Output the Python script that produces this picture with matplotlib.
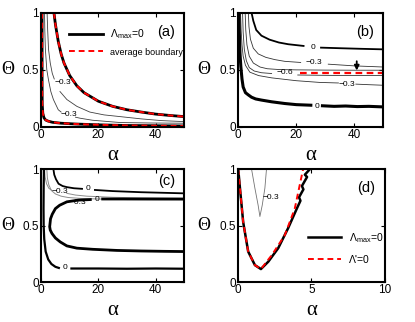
import numpy as np
import matplotlib
matplotlib.use('Agg')
import matplotlib.pyplot as plt

plt.rcParams['font.family'] = ['Liberation Sans', 'DejaVu Sans']
plt.rcParams['mathtext.fontset'] = 'custom'
plt.rcParams['mathtext.rm'] = 'Liberation Sans'
plt.rcParams['mathtext.it'] = 'Liberation Sans:italic'

nan = np.nan

# ---- panel (a) : alpha vs theta
a_low_alpha = [0.35, 0.35, 0.4, 0.6, 1.0, 1.6, 2.5, 4, 7, 12, 20, 30, 40, 50]
a_low_theta = [1.0, 0.4, 0.2, 0.12, 0.08, 0.06, 0.05, 0.04, 0.032, 0.025, 0.018, 0.012, 0.01, 0.008]
a_high_alpha = [4.5, 5, 6, 7, 8, 10, 12.5, 15, 20, 25, 30, 35, 40, 45, 50]
a_high_theta = [1.0, 0.9, 0.75, 0.64, 0.56, 0.45, 0.36, 0.3, 0.225, 0.18, 0.15, 0.13, 0.112, 0.1, 0.09]
a_p_alpha = [2.1, 2.3, 2.6, 3.2, 3.9, 4.6, nan, 6.6, 9, 12.5, 17, 22, 27.6, 35, 42, 50]
a_p_theta = [1.0, 0.85, 0.68, 0.56, 0.47, 0.42, nan, 0.31, 0.24, 0.18, 0.13, 0.105, 0.09, 0.07, 0.055, 0.046]
a_q_alpha = [1.2, 1.3, 1.5, 2.0, 2.6, 3.4, 4.3, 6.0, 7.0, nan, 12.0, 13.6, 18, 27.6, 38, 50]
a_q_theta = [1.0, 0.85, 0.68, 0.5, 0.41, 0.31, 0.24, 0.15, 0.13, nan, 0.085, 0.076, 0.058, 0.038, 0.034, 0.032]
a_labels = [(7.6, 0.385, '\u22120.3'), (9.6, 0.105, '\u22120.3')]

# ---- panel (b)
b_top_alpha = [4.6, 5.2, 6.2, 8, 10.8, 14, 17.2, 22.5, nan, 28.5, 35, 42, 50]
b_top_theta = [1.0, 0.93, 0.85, 0.8, 0.765, 0.74, 0.725, 0.71, nan, 0.695, 0.69, 0.685, 0.68]
b_m03u_alpha = [3.5, 3.7, 4.2, 5.2, 6.9, 9.5, 12.6, 16, 21.5, nan, 31, 40, 50]
b_m03u_theta = [1.0, 0.88, 0.77, 0.69, 0.64, 0.61, 0.59, 0.575, 0.565, nan, 0.55, 0.535, 0.525]
b_m06u_alpha = [2.4, 2.6, 3.0, 3.8, 5.2, 7.5, 10, 14, 20, 30, 40, 50]
b_m06u_theta = [1.0, 0.85, 0.72, 0.62, 0.56, 0.525, 0.51, 0.503, 0.5, 0.498, 0.497, 0.497]
b_m06l_alpha = [1.5, 1.7, 2.1, 2.8, 3.8, 5.5, 8, 11.5, nan, 20.5, 30, 40, 50]
b_m06l_theta = [1.0, 0.83, 0.68, 0.58, 0.52, 0.49, 0.475, 0.468, nan, 0.455, 0.452, 0.45, 0.45]
b_m03l_alpha = [0.8, 1.0, 1.3, 1.7, 2.5, 4, 7, 11.5, 20, 28, 34.5, nan, 40.5, 45, 50]
b_m03l_theta = [1.0, 0.85, 0.72, 0.62, 0.54, 0.48, 0.45, 0.43, 0.405, 0.39, 0.385, nan, 0.375, 0.37, 0.365]
b_bot_alpha = [0.3, 0.4, 0.6, 0.9, 1.3, 1.7, 2.5, 3.5, 4.6, 6, 8, 11.5, 16, 20, 25, nan, 29, 33, 37, 41, 45, 50]
b_bot_theta = [1.0, 0.82, 0.65, 0.53, 0.42, 0.35, 0.3, 0.28, 0.26, 0.245, 0.235, 0.22, 0.205, 0.195, 0.19, nan,
               0.185, 0.18, 0.183, 0.178, 0.18, 0.175]
b_red_alpha = [21.4, 30, 40, 50]
b_red_theta = [0.472, 0.472, 0.472, 0.472]
b_arrow = (40.8, 0.60, 0.47)
b_labels = [(25.8, 0.70, '0'), (26.2, 0.565, '\u22120.3'), (16.2, 0.48, '\u22120.6'),
            (37.5, 0.375, '\u22120.3'), (27, 0.18, '0')]

# ---- panel (c)
c_top_alpha = [4.3, 4.6, 5.2, 6.1, 7.5, 9.0, 11.5, 14.3, nan, 18.8, 25, 35, 50]
c_top_theta = [1.0, 0.95, 0.91, 0.87, 0.85, 0.84, 0.83, 0.825, nan, 0.815, 0.805, 0.795, 0.785]
c_g1_alpha = [1.2, 1.4, 1.9, 2.7, 3.8, nan, 9.0, 12, 16, 25, 35, 50]
c_g1_theta = [1.0, 0.93, 0.87, 0.83, 0.81, nan, 0.785, 0.77, 0.76, 0.75, 0.745, 0.74]
c_g2_alpha = [2.0, 2.2, 2.7, 3.6, 5.0, 7.0, 9.5, 14, 20, 30, 40, 50]
c_g2_theta = [1.0, 0.92, 0.86, 0.81, 0.78, 0.76, 0.748, 0.74, 0.735, 0.73, 0.728, 0.727]
c_mid_alpha = [50, 40, 30, 21.5, nan, 17.2, 13, 9.0, 6.5, 5.0, 3.9, 3.3, 3.0, 3.2, 3.8, 5.0, 6.7, 9.0,
               12.5, 18, 26.5, 35, 43, 50]
c_mid_theta = [0.735, 0.735, 0.735, 0.735, nan, 0.73, 0.725, 0.71, 0.68, 0.65, 0.6, 0.56, 0.49, 0.46,
               0.43, 0.39, 0.355, 0.32, 0.30, 0.29, 0.28, 0.275, 0.272, 0.27]
c_low_alpha = [1.0, 0.9, 0.85, 0.9, 1.1, 1.6, 2.5, 3.6, 5.0, 6.2, nan, 10.6, 20, 30, 40, 50]
c_low_theta = [1.0, 0.85, 0.65, 0.5, 0.38, 0.27, 0.2, 0.16, 0.135, 0.125, nan, 0.12, 0.12, 0.118, 0.12, 0.118]
c_labels = [(16.5, 0.825, '0'), (6.4, 0.805, '\u22120.3'), (12.8, 0.705, '\u22120.3'),
            (19.4, 0.73, '0'), (8.2, 0.13, '0')]

# ---- panel (d)
d_black_alpha = [0, 0.12, 0.34, 0.68, 1.14, 1.55, 2.05, 2.73, 3.4, 4.0, 4.25, 4.15, 4.45, 4.35, 4.7, 4.55, 4.9]
d_black_theta = [1.0, 0.83, 0.53, 0.27, 0.15, 0.115, 0.18, 0.30, 0.475, 0.65, 0.72, 0.75, 0.82, 0.85, 0.93, 0.95, 1.0]
d_red_alpha = [0, 0.12, 0.34, 0.68, 1.14, 1.55, 2.3, 3.18, 3.86, 4.43]
d_red_theta = [1.0, 0.83, 0.53, 0.27, 0.15, 0.115, 0.24, 0.415, 0.65, 1.0]
d_m03_alpha = [0.91, 1.14, 1.36, 1.48, 1.64, 1.82, 1.93]
d_m03_theta = [1.0, 0.83, 0.68, 0.58, 0.68, 0.83, 1.0]
d_labels = [(2.25, 0.75, '\u22120.3')]

serif = ['Liberation Serif', 'DejaVu Serif']


def style(ax, xmax, xticks, tag, tag_y=0.83):
    ax.set_xlim(0, xmax)
    ax.set_ylim(0, 1)
    ax.set_xticks(xticks)
    ax.set_yticks([0, 0.5, 1])
    ax.set_yticklabels(['0', '0.5', '1'])
    ax.tick_params(direction='in', top=True, right=True, length=3, width=0.8,
                   labelsize=8.5, pad=1.5)
    for s in ax.spines.values():
        s.set_linewidth(1.5)
    ax.set_xlabel('\u03b1', fontsize=15, family=serif)
    ax.xaxis.set_label_coords(0.5, -0.17)
    ax.set_ylabel('\u0398', fontsize=13, family=serif, rotation=0, va='center', ha='center')
    ax.yaxis.set_label_coords(-0.235, 0.5)
    ax.text(0.875, tag_y, tag, transform=ax.transAxes, fontsize=10.5, ha='center', va='center')


def labels(ax, items):
    for x, y, t in items:
        ax.text(x, y, t, fontsize=6, ha='center', va='center')


fig = plt.figure(figsize=(4.15, 3.22), dpi=100)
ax_a = fig.add_axes([0.099, 0.606, 0.345, 0.354])
ax_b = fig.add_axes([0.574, 0.606, 0.350, 0.354])
ax_c = fig.add_axes([0.099, 0.124, 0.345, 0.351])
ax_d = fig.add_axes([0.574, 0.124, 0.353, 0.351])

# (a)
ax_a.plot(a_p_alpha, a_p_theta, color='0.25', lw=0.6)
ax_a.plot(a_q_alpha, a_q_theta, color='0.25', lw=0.6)
ax_a.plot(a_low_alpha, a_low_theta, color='black', lw=2)
ax_a.plot(a_high_alpha, a_high_theta, color='black', lw=2, label=r'$\Lambda_{\rm max}$=0')
ax_a.plot(a_low_alpha, a_low_theta, color='red', lw=1.4, ls=(0, (3, 2)))
ax_a.plot(a_high_alpha, a_high_theta, color='red', lw=1.4, ls=(0, (3, 2)), label='average boundary')
labels(ax_a, a_labels)
leg = ax_a.legend(loc='upper left', bbox_to_anchor=(0.16, 0.92), frameon=False, fontsize=7.5,
                  handlelength=3.2, handletextpad=0.7, labelspacing=0.6, borderpad=0)
leg.get_texts()[1].set_fontsize(6.5)
style(ax_a, 50, [0, 20, 40], '(a)')

# (b)
for xs, ys in [(b_m03u_alpha, b_m03u_theta), (b_m06u_alpha, b_m06u_theta),
               (b_m06l_alpha, b_m06l_theta), (b_m03l_alpha, b_m03l_theta)]:
    ax_b.plot(xs, ys, color='0.2', lw=0.6)
ax_b.plot(b_top_alpha, b_top_theta, color='black', lw=1.3)
ax_b.plot(b_bot_alpha, b_bot_theta, color='black', lw=2.2)
ax_b.plot(b_red_alpha, b_red_theta, color='red', lw=1.6, ls=(0, (3, 2)))
ax_b.annotate('', xy=(b_arrow[0], b_arrow[2]), xytext=(b_arrow[0], b_arrow[1]),
              arrowprops=dict(arrowstyle='-|>', color='black', lw=1.3, mutation_scale=7))
labels(ax_b, b_labels)
style(ax_b, 50, [0, 20, 40], '(b)')

# (c)
ax_c.plot(c_g1_alpha, c_g1_theta, color='0.55', lw=0.7)
ax_c.plot(c_g2_alpha, c_g2_theta, color='0.55', lw=0.7)
ax_c.plot(c_top_alpha, c_top_theta, color='black', lw=1.3)
ax_c.plot(c_mid_alpha, c_mid_theta, color='black', lw=2.0)
ax_c.plot(c_low_alpha, c_low_theta, color='black', lw=1.6)
labels(ax_c, c_labels)
style(ax_c, 50, [0, 20, 40], '(c)', tag_y=0.89)

# (d)
ax_d.plot(d_m03_alpha, d_m03_theta, color='0.45', lw=0.6)
ax_d.plot(d_black_alpha, d_black_theta, color='black', lw=1.8, label=r'$\Lambda_{\rm max}$=0')
ax_d.plot(d_red_alpha, d_red_theta, color='red', lw=1.4, ls=(0, (3, 2)), label="\u039b'=0")
labels(ax_d, d_labels)
ax_d.legend(loc='upper left', bbox_to_anchor=(0.44, 0.5), frameon=False, fontsize=7.5,
            handlelength=3.2, handletextpad=0.7, labelspacing=1.0, borderpad=0)
style(ax_d, 10, [0, 5, 10], '(d)')

fig.savefig('out.png', dpi=100)
